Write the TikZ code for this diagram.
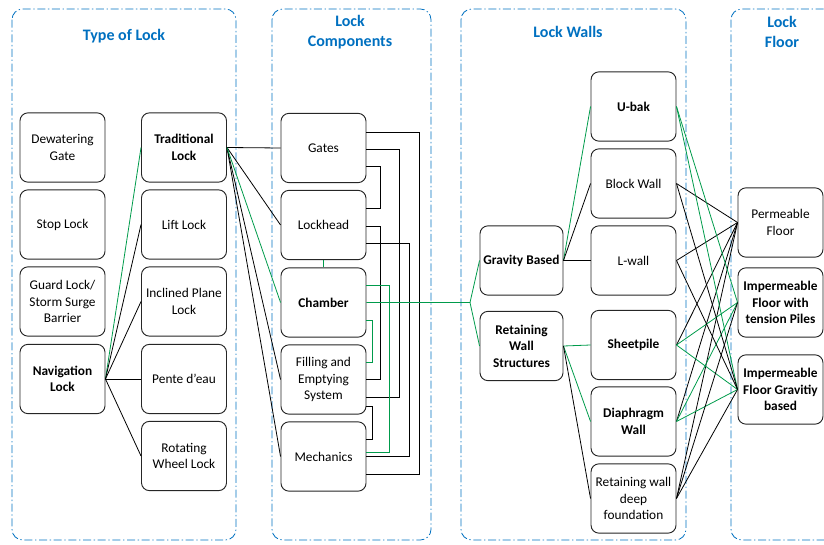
\documentclass[tikz,border=0pt]{standalone}
\usepackage{fontspec}
\setmainfont{Carlito}
\usetikzlibrary{positioning, calc}
\definecolor{lockblue}{RGB}{0, 112, 192}
\definecolor{linkgreen}{RGB}{0, 155, 75}

\begin{document}
\begin{tikzpicture}[x=0.75pt, y=-0.75pt,
  bx/.style={draw=black!85, fill=white, rounded corners=6pt, minimum width=63.75pt, minimum height=52pt, align=center, inner sep=1pt, line width=0.7pt, font=\fontsize{10}{12.4}\selectfont},
  bxb/.style={bx, font=\fontsize{10}{12.4}\selectfont\bfseries},
  grp/.style={draw=lockblue, line width=0.6pt, rounded corners=8pt, dash pattern=on 6pt off 2pt on 1pt off 2pt},
  ttl/.style={text=lockblue, align=center, font=\fontsize{12}{15}\selectfont\bfseries},
  ln/.style={black, line width=0.6pt},
  gl/.style={linkgreen, line width=0.6pt},
]
  \clip (0,0) rectangle (824,545);

  % groups
  \draw[grp] (12,9) rectangle (236,540);
  \draw[grp] (272,9) rectangle (431,540);
  \draw[grp] (461,9) rectangle (686,540);
  \draw[grp] (731,9) rectangle (860,540);
  \node[ttl] (tType) at (124,36) {Type of Lock};
  \node[ttl] (tComp) at (350,32) {Lock\\Components};
  \node[ttl] (tWall) at (568,32) {Lock Walls};
  \node[ttl] (tFloor) at (782,32) {Lock\\Floor};

  % type of lock
  \node[bx] (dew) at (62.5,147.5) {Dewatering\\Gate};
  \node[bx] (stop) at (62.5,224.5) {Stop Lock};
  \node[bx] (guard) at (62.5,301.5) {Guard Lock/\\Storm Surge\\Barrier};
  \node[bxb] (nav) at (62.5,379) {Navigation\\Lock};
  \node[bxb] (trad) at (184,147.5) {Traditional\\Lock};
  \node[bx] (lift) at (184,224.5) {Lift Lock};
  \node[bx] (incl) at (184,301.5) {Inclined Plane\\Lock};
  \node[bx] (pente) at (184,379) {Pente d'eau};
  \node[bx] (rot) at (184,456) {Rotating\\Wheel Lock};

  % components
  \node[bx] (gates) at (323.5,148) {Gates};
  \node[bx] (lockhead) at (323.5,225) {Lockhead};
  \node[bxb] (chamber) at (323.5,302.5) {Chamber};
  \node[bx] (filling) at (323.5,379.5) {Filling and\\Emptying\\System};
  \node[bx] (mech) at (323.5,456.5) {Mechanics};

  % walls
  \node[bxb, minimum width=62.25pt] (grav) at (521.5,260.5) {Gravity Based};
  \node[bxb, minimum width=62.25pt] (ret) at (521.5,346) {Retaining\\Wall\\Structures};
  \node[bxb] (ubak) at (633.5,106.5) {U-bak};
  \node[bx] (block) at (633.5,183.5) {Block Wall};
  \node[bx] (lwall) at (633.5,260.5) {L-wall};
  \node[bxb] (sheet) at (633.5,345) {Sheetpile};
  \node[bxb] (diaph) at (633.5,421.5) {Diaphragm\\Wall};
  \node[bx] (rwdf) at (633.5,498.5) {Retaining wall\\deep\\foundation};

  % floors
  \node[bx] (perm) at (780.5,222.5) {Permeable\\Floor};
  \node[bxb] (tens) at (780.5,302.5) {Impermeable\\Floor with\\tension Piles};
  \node[bxb] (gravf) at (780.5,389.5) {Impermeable\\Floor Gravitiy\\based};

  % type links
  \draw[gl] (nav.east) -- (trad.west);
  \foreach \t in {lift, incl, pente, rot}
    \draw[ln] (nav.east) -- (\t.west);
  \foreach \t in {gates, lockhead, filling, mech}
    \draw[ln] (trad.east) -- (\t.west);
  \draw[gl] (trad.east) -- (chamber.west);

  % component links
  \draw[gl] (lockhead.south) -- (chamber.north);
  \draw[ln] ($(gates.east)+(0,-16)$) -- ++(53,0) |- ($(mech.east)+(0,17.5)$);
  \draw[ln] ($(gates.east)+(0,1)$) -- ++(33,0) |- ($(filling.east)+(0,17.5)$);
  \draw[ln] ($(gates.east)+(0,18)$) -- ++(14,0) |- ($(lockhead.east)+(0,-17)$);
  \draw[ln] ($(lockhead.east)+(0,1)$) -- ++(14,0) |- (filling.east);
  \draw[ln] ($(lockhead.east)+(0,18)$) -- ++(43,0) |- (mech.east);
  \draw[gl] ($(chamber.east)+(0,-17.5)$) -- ++(23,0) |- ($(mech.east)+(0,-4.5)$);
  \draw[gl] ($(chamber.east)+(0,17.5)$) -- ++(6,0) |- ($(filling.east)+(0,-17.5)$);
  \draw[ln] ($(filling.east)+(0,26.5)$) -- ++(6,0) |- ($(mech.east)+(0,-17.5)$);

  % chamber to walls
  \coordinate (jn) at (470,302.5);
  \draw[gl] (chamber.east) -- (jn) -- (grav.west);
  \draw[gl] (jn) -- (ret.west);
  \draw[gl] (grav.east) -- (ubak.west);
  \draw[ln] (grav.east) -- (block.west);
  \draw[ln] (grav.east) -- (lwall.west);
  \draw[gl] (ret.east) -- (sheet.west);
  \draw[gl] (ret.east) -- (diaph.west);
  \draw[ln] (ret.east) -- (rwdf.west);

  % walls to floors
  \foreach \w in {block, lwall, sheet, diaph, rwdf}
    \draw[ln] (\w.east) -- (perm.west);
  \foreach \w in {ubak, sheet, diaph}
    \draw[gl] (\w.east) -- (tens.west);
  \foreach \w in {ubak, sheet, diaph}
    \draw[gl] (\w.east) -- (gravf.west);
  \foreach \w in {block, lwall, rwdf}
    \draw[ln] (\w.east) -- (gravf.west);
  \draw[ln] (rwdf.east) -- (tens.west);
\end{tikzpicture}
\end{document}
